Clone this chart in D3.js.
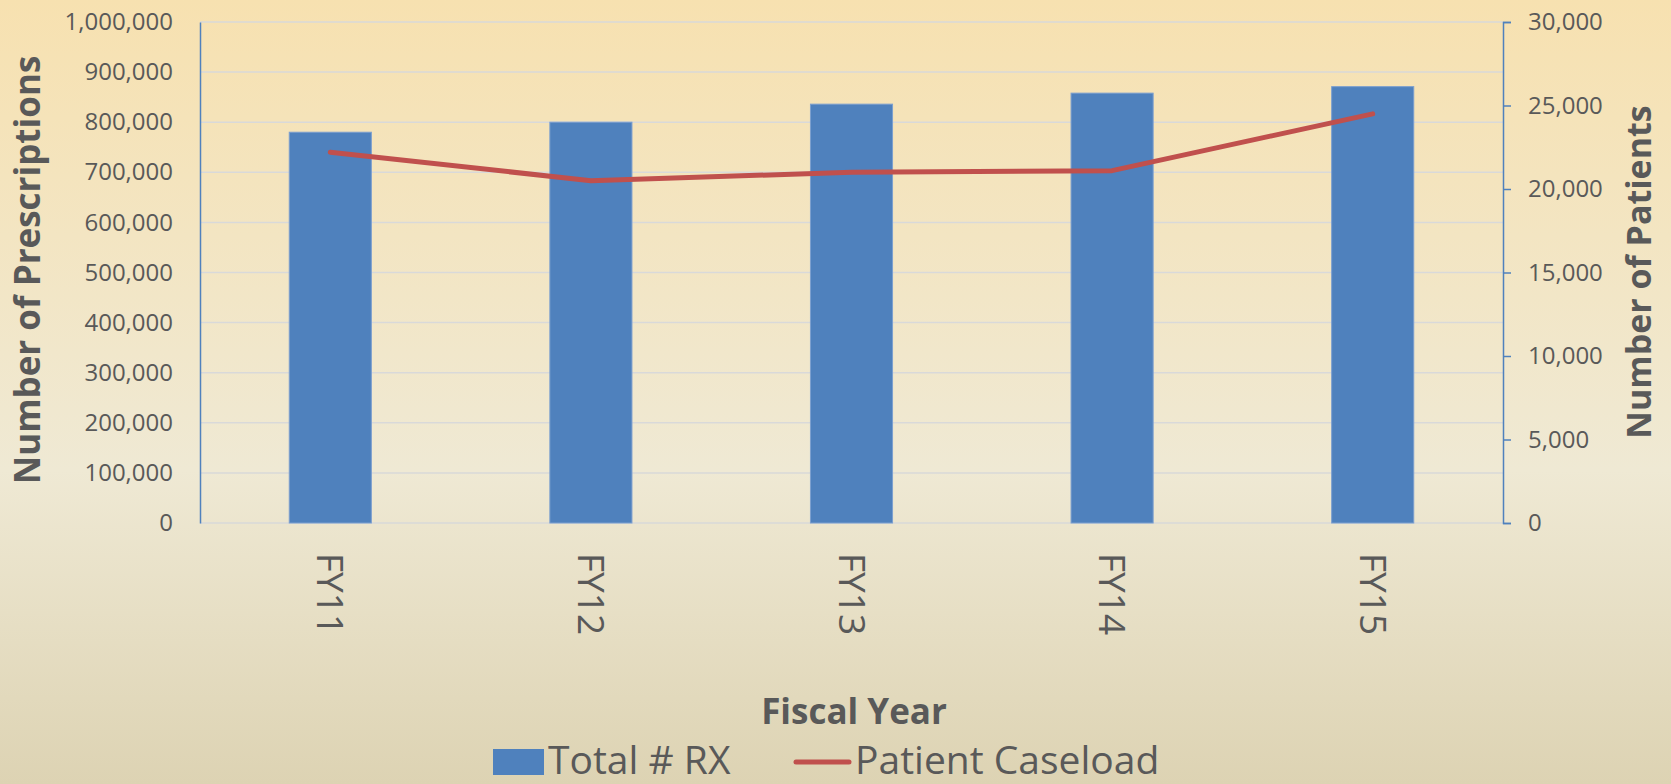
<!DOCTYPE html>
<html>
<head>
<meta charset="utf-8">
<script src="https://cdn.jsdelivr.net/npm/d3@7"></script>
<style>
  body { margin: 0; overflow: hidden; }
  text { font-family: 'Open Sans', sans-serif; fill: #595959; }
</style>
</head>
<body>
<script>
var w = 1671,
    h = 784;

// Data
var years = ['FY11', 'FY12', 'FY13', 'FY14', 'FY15'];
var totalRx = [780000, 800000, 836000, 858000, 871000];
var caseload = [22200, 20500, 21000, 21100, 24500];
var leftTicks = [0, 100000, 200000, 300000, 400000, 500000, 600000, 700000, 800000, 900000, 1000000];
var rightTicks = [0, 5000, 10000, 15000, 20000, 25000, 30000];

var plot = { left: 200, right: 1503, top: 22, bottom: 523 };

var svg = d3.select('body')
            .append('svg')
            .attr('width', w)
            .attr('height', h);

// background gradient
var grad = svg.append('defs')
              .append('linearGradient')
              .attr('id', 'bg')
              .attr('x1', 0).attr('y1', 0)
              .attr('x2', 0).attr('y2', 1);
grad.append('stop').attr('offset', '0%').attr('stop-color', '#f7e1b0');
grad.append('stop').attr('offset', '60%').attr('stop-color', '#efe9d4');
grad.append('stop').attr('offset', '100%').attr('stop-color', '#ddd3b3');

svg.append('rect')
   .attr('width', w)
   .attr('height', h)
   .attr('fill', 'url(#bg)');

var x = d3.scaleBand()
          .domain(years)
          .range([plot.left, plot.right])
          .padding(0);

var yLeft = d3.scaleLinear()
              .domain([0, 1000000])
              .range([plot.bottom, plot.top]);

var yRight = d3.scaleLinear()
               .domain([0, 30000])
               .range([plot.bottom, plot.top]);

var fmt = d3.format(',');

// gridlines
svg.append('g')
   .selectAll('line')
   .data(leftTicks)
   .enter()
   .append('line')
   .attr('x1', plot.left)
   .attr('x2', plot.right)
   .attr('y1', function(d) { return yLeft(d); })
   .attr('y2', function(d) { return yLeft(d); })
   .style('stroke', '#d9d9d9')
   .style('stroke-width', 1.5);

// left axis
var leftAxis = svg.append('g')
                  .attr('transform', 'translate(' + plot.left + ',0)')
                  .call(d3.axisLeft(yLeft)
                          .tickValues(leftTicks)
                          .tickFormat(fmt)
                          .tickSize(0)
                          .tickPadding(27));
leftAxis.select('.domain').style('stroke', '#4f81bd').style('stroke-width', 1.5);
leftAxis.selectAll('text')
        .style('font-size', '24px')
        .style('fill', '#595959')
        .style('font-family', "'Open Sans', sans-serif");

// right axis
var rightAxis = svg.append('g')
                   .attr('transform', 'translate(' + plot.right + ',0)')
                   .call(d3.axisRight(yRight)
                           .tickValues(rightTicks)
                           .tickFormat(fmt)
                           .tickSizeInner(8)
                           .tickSizeOuter(8)
                           .tickPadding(17));
rightAxis.selectAll('.domain, line').style('stroke', '#4f81bd').style('stroke-width', 1.5);
rightAxis.selectAll('text')
         .style('font-size', '24px')
         .style('fill', '#595959')
         .style('font-family', "'Open Sans', sans-serif");

// bars
var barW = x.bandwidth() * 0.315;
svg.append('g')
   .selectAll('rect')
   .data(totalRx)
   .enter()
   .append('rect')
   .attr('x', function(d, i) { return x(years[i]) + x.bandwidth() / 2 - barW / 2; })
   .attr('y', function(d) { return yLeft(d); })
   .attr('width', barW)
   .attr('height', function(d) { return yLeft(0) - yLeft(d); })
   .style('fill', '#4f81bd')
   .style('stroke', '#7c9fcf')
   .style('stroke-width', 1);

// caseload line
var line = d3.line()
             .x(function(d, i) { return x(years[i]) + x.bandwidth() / 2; })
             .y(function(d) { return yRight(d); });

svg.append('path')
   .datum(caseload)
   .attr('d', line)
   .style('fill', 'none')
   .style('stroke', '#c0504d')
   .style('stroke-width', 5)
   .style('stroke-linecap', 'round')
   .style('stroke-linejoin', 'round');

// category labels, rotated
svg.append('g')
   .selectAll('text')
   .data(years)
   .enter()
   .append('text')
   .attr('transform', function(d) {
      return 'translate(' + (x(d) + x.bandwidth() / 2) + ',553) rotate(90)';
    })
   .attr('dy', '0.35em')
   .style('font-size', '37px')
   .text(function(d) { return d; });

// axis titles
svg.append('text')
   .attr('transform', 'translate(28,270) rotate(-90)')
   .attr('text-anchor', 'middle')
   .attr('dy', '0.35em')
   .style('font-size', '35px')
   .style('font-weight', 'bold')
   .text('Number of Prescriptions');

svg.append('text')
   .attr('transform', 'translate(1639,272) rotate(-90)')
   .attr('text-anchor', 'middle')
   .attr('dy', '0.35em')
   .style('font-size', '34px')
   .style('font-weight', 'bold')
   .text('Number of Patients');

svg.append('text')
   .attr('x', 854)
   .attr('y', 724)
   .attr('text-anchor', 'middle')
   .style('font-size', '35px')
   .style('font-weight', 'bold')
   .text('Fiscal Year');

// legend
var legend = svg.append('g');
legend.append('rect')
      .attr('x', 493)
      .attr('y', 749)
      .attr('width', 51)
      .attr('height', 26)
      .style('fill', '#4f81bd');
legend.append('text')
      .attr('x', 548)
      .attr('y', 774)
      .style('font-size', '39px')
      .text('Total # RX');
legend.append('line')
      .attr('x1', 796)
      .attr('x2', 849)
      .attr('y1', 762)
      .attr('y2', 762)
      .style('stroke', '#c0504d')
      .style('stroke-width', 5)
      .style('stroke-linecap', 'round');
legend.append('text')
      .attr('x', 855)
      .attr('y', 774)
      .style('font-size', '39px')
      .text('Patient Caseload');
</script>
</body>
</html>
